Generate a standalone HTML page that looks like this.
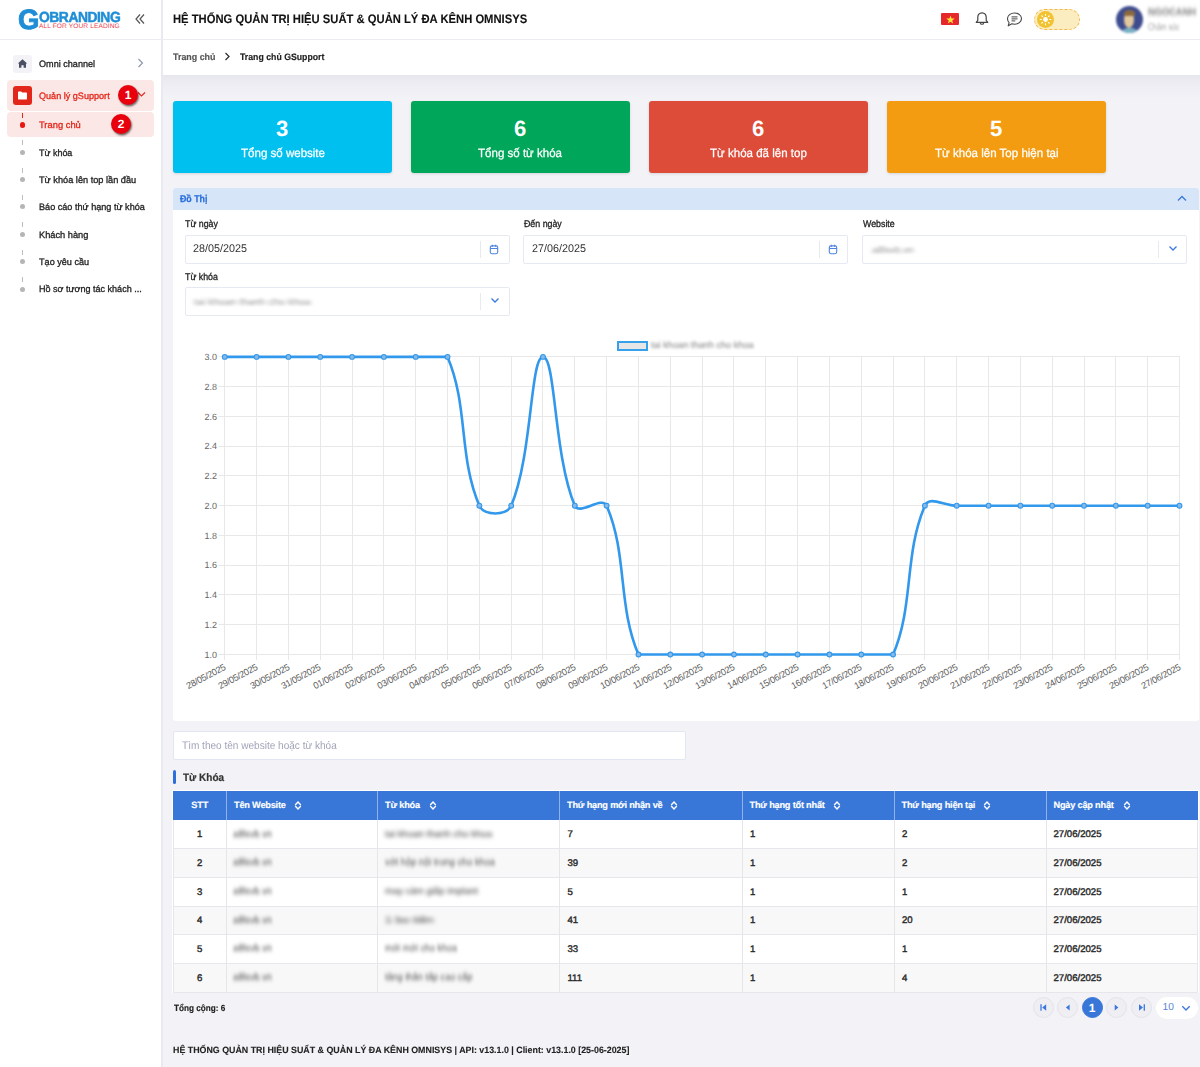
<!DOCTYPE html>
<html><head><meta charset="utf-8">
<style>
*{box-sizing:border-box;margin:0;padding:0}
html,body{width:1200px;height:1067px;overflow:hidden}
body{position:relative;background:#f2f2f7;font-family:"Liberation Sans",sans-serif;color:#333;text-rendering:geometricPrecision}
.a{position:absolute}
svg{display:block}
.sb{left:0;top:0;width:161px;height:1067px;background:#fff}
.sbb{left:161px;top:0;width:2px;height:1067px;background:#e9e9f1}
.hdr{left:163px;top:0;width:1037px;height:39px;background:#fff}
.hl{left:0;top:39px;width:1200px;height:1px;background:#ececf0}
.bc{left:163px;top:40px;width:1037px;height:35px;background:#fff;}
.title{left:173.5px;top:11.5px;font-size:11.9px;font-weight:bold;letter-spacing:-0.42px;color:#111;white-space:nowrap;line-height:14px}
.bct{top:51.5px;font-size:9.5px;font-weight:bold;letter-spacing:-0.5px;line-height:11px;white-space:nowrap}
/* sidebar */
.mi{left:39px;font-size:9.8px;letter-spacing:-0.37px;-webkit-text-stroke:0.15px currentColor;line-height:12px;color:#222;white-space:nowrap}
.dot{left:20px;width:5px;height:5px;border-radius:50%;background:#b5b5b5}
.dash{left:22px;width:1px;height:5px;background:#bdbdbd}
/* cards */
.card{top:101px;width:219px;height:72px;border-radius:3px;color:#fff;text-align:center;box-shadow:0 1px 3px rgba(0,0,0,.12)}
.card b{position:absolute;left:0;right:0;top:15px;font-size:23px;line-height:24px;font-weight:bold}
.card i{position:absolute;left:0;right:0;top:45px;font-size:11.4px;line-height:14px;font-style:normal}

.lbl{font-size:9.3px;line-height:11px;letter-spacing:-0.28px;color:#222;-webkit-text-stroke:0.2px #222;white-space:nowrap}
.inp{width:325px;height:29px;border:1px solid #e6e9f1;border-radius:2px;background:#fff}
.inp .v{position:absolute;left:9px;top:8px;font-size:10.7px;line-height:12px;color:#333;white-space:nowrap}
.inp .v.blur{top:10.5px;height:7px;background:#cfcfd4;filter:blur(1.6px)}
.inp .sep{position:absolute;right:27.5px;top:5px;width:1px;height:17px;background:#e6e9f1}
.inp .ic{position:absolute;right:9.5px;top:8px}
.blur{filter:blur(1.5px)}
.xl{position:absolute;top:663px;font-size:9.2px;line-height:9px;letter-spacing:-0.3px;color:#5a5a5a;white-space:nowrap;transform:translateX(-100%) rotate(-28deg);transform-origin:100% 0}
.th{top:800.2px;font-size:9.2px;line-height:10px;font-weight:bold;letter-spacing:-0.2px;color:#fff;-webkit-text-stroke:0.15px #fff;white-space:nowrap}
.td{font-size:9.6px;line-height:10px;letter-spacing:0px;color:#2a2a2a;-webkit-text-stroke:0.4px #2a2a2a;white-space:nowrap}
.bl{height:6.5px;background:#b9b9bd;filter:blur(1.5px)}
.pg{top:997px;width:21px;height:21px;border-radius:50%;background:#efeff3;border:1px solid #e3e3e8}
.pg svg{position:absolute;left:-1px;top:-1px}
.t{white-space:nowrap}
.bt{font-size:9.5px;line-height:11px;color:#3a3a3a;white-space:nowrap;filter:blur(1.9px);transform-origin:0 0}
</style></head><body>
<div class="a sb"></div>
<div class="a sbb"></div>
<div class="a hdr"></div>
<div class="a hl"></div>
<div class="a bc"></div>
<div class="a" style="left:163px;top:75px;width:1037px;height:24px;background:linear-gradient(to bottom,#e6e6ed,#ececf2 30%,#f2f2f7)"></div>

<!-- logo -->
<div class="a" style="left:17.5px;top:7.5px;width:24px;height:24px;font-size:28px;line-height:24px;font-weight:bold;color:#1f8ed6;-webkit-text-stroke:0.9px #1f8ed6;transform:scaleX(0.98);transform-origin:0 0">G</div>
<div class="a" style="left:38.5px;top:11.3px;font-size:14.6px;line-height:14px;font-weight:bold;color:#1f8ed6;-webkit-text-stroke:0.5px #1f8ed6;letter-spacing:-0.5px;white-space:nowrap;transform:scaleX(0.95);transform-origin:0 0">OBRANDING</div>
<div class="a" style="left:39px;top:23px;font-size:6.6px;line-height:7px;color:#e8414f;white-space:nowrap;letter-spacing:0.1px">ALL FOR YOUR LEADING</div>
<svg class="a" style="left:134px;top:13px" width="12" height="12" viewBox="0 0 12 12"><path d="M6 1.5 L2 6 L6 10.5 M10 1.5 L6 6 L10 10.5" fill="none" stroke="#555" stroke-width="1.2"/></svg>

<!-- header -->
<svg class="a" style="left:224px;top:52px" width="7" height="9" viewBox="0 0 7 9"><path d="M1.5 1 L5 4.5 L1.5 8" fill="none" stroke="#333" stroke-width="1.3"/></svg>

<!-- sidebar menu -->
<div class="a" style="left:13px;top:55px;width:19px;height:18px;border-radius:3px;background:#f3f3f7"></div>
<svg class="a" style="left:17px;top:58px" width="11" height="11" viewBox="0 0 11 11"><path d="M5.5 1.2 L0.8 5.6 L2 5.6 L2 9.8 L4.4 9.8 L4.4 7.2 L6.6 7.2 L6.6 9.8 L9 9.8 L9 5.6 L10.2 5.6 Z" fill="#4a4f63"/></svg>
<svg class="a" style="left:137px;top:58px" width="7" height="10" viewBox="0 0 7 10"><path d="M1.5 1 L5.5 5 L1.5 9" fill="none" stroke="#8a93a8" stroke-width="1.1"/></svg>

<div class="a" style="left:7px;top:80px;width:147px;height:30.6px;border-radius:4px;background:#fbe8e6"></div>
<div class="a" style="left:13px;top:86px;width:19px;height:19px;border-radius:3px;background:#e3261a"></div>
<svg class="a" style="left:17px;top:90px" width="11" height="11" viewBox="0 0 11 11"><path d="M1 2.2 Q1 1.5 1.7 1.5 L4.2 1.5 L5.2 2.6 L9.3 2.6 Q10 2.6 10 3.3 L10 8.8 Q10 9.5 9.3 9.5 L1.7 9.5 Q1 9.5 1 8.8 Z" fill="#fff"/></svg>
<svg class="a" style="left:137px;top:91px" width="9" height="7" viewBox="0 0 9 7"><path d="M1 1.5 L4.5 5 L8 1.5" fill="none" stroke="#e3261a" stroke-width="1.1"/></svg>

<div class="a" style="left:7px;top:112.2px;width:147px;height:25.3px;border-radius:4px;background:#fbe8e6"></div>
<div class="a dash" style="top:113px;background:#e3261a;height:5px"></div>
<div class="a dot" style="top:122px;left:19.7px;width:5.6px;height:5.6px;background:#e8170f"></div>

<div class="a dash" style="top:140px"></div>
<div class="a dot" style="top:149.5px"></div>
<div class="a dash" style="top:167.5px"></div>
<div class="a dot" style="top:177px"></div>
<div class="a dash" style="top:195px"></div>
<div class="a dot" style="top:204px"></div>
<div class="a dash" style="top:222px"></div>
<div class="a dot" style="top:231.5px"></div>
<div class="a dash" style="top:249.5px"></div>
<div class="a dot" style="top:259px"></div>
<div class="a dash" style="top:277px"></div>
<div class="a dot" style="top:286.5px"></div>

<!-- badges -->
<div class="a" style="left:118px;top:85px;width:20px;height:20px;border-radius:50%;background:#e8000c;box-shadow:1px 1.5px 2px rgba(0,0,0,.55);color:#fff;font-size:12px;font-weight:bold;text-align:center;line-height:20px">1</div>
<div class="a" style="left:111px;top:113.5px;width:20px;height:20px;border-radius:50%;background:#e8000c;box-shadow:1px 1.5px 2px rgba(0,0,0,.55);color:#fff;font-size:12px;font-weight:bold;text-align:center;line-height:20px">2</div>

<!-- cards -->
<div class="a card" style="left:173px;background:#00c0ef"></div>
<div class="a card" style="left:411px;background:#00a65a"></div>
<div class="a card" style="left:649px;background:#dd4b39"></div>
<div class="a card" style="left:887px;background:#f39c12"></div>

<!-- panel -->
<div class="a" style="left:173px;top:188px;width:1026px;height:533px;background:#fff;border-radius:3px"></div>
<div class="a" style="left:173px;top:188px;width:1026px;height:22px;background:#d7e5f8;border-radius:3px 3px 0 0"></div>
<svg class="a" style="left:1177px;top:195px" width="10" height="7" viewBox="0 0 10 7"><path d="M1 5.5 L5 1.5 L9 5.5" fill="none" stroke="#3b78dc" stroke-width="1.3"/></svg>


<div class="a inp" style="left:184.5px;top:234.5px"><i class="sep"></i><svg class="ic" width="10" height="11" viewBox="0 0 10 11"><rect x="1.3" y="1.9" width="7.4" height="7.8" rx="1.6" fill="none" stroke="#4f84e0" stroke-width="1.1"/><path d="M3.4 0.8V2.8M6.6 0.8V2.8M1.3 4.5H8.7" stroke="#4f84e0" stroke-width="1.1"/></svg></div>
<div class="a inp" style="left:523px;top:234.5px"><i class="sep"></i><svg class="ic" width="10" height="11" viewBox="0 0 10 11"><rect x="1.3" y="1.9" width="7.4" height="7.8" rx="1.6" fill="none" stroke="#4f84e0" stroke-width="1.1"/><path d="M3.4 0.8V2.8M6.6 0.8V2.8M1.3 4.5H8.7" stroke="#4f84e0" stroke-width="1.1"/></svg></div>
<div class="a inp" style="left:862px;top:234.5px"><span class="a bt" style="transform:scaleX(1.036);left:9px;top:9.5px;color:#999;filter:blur(1.8px)">a8lsvb.vn</span><i class="sep"></i><svg class="ic" style="top:9px;right:8.5px" width="10" height="7" viewBox="0 0 10 7"><path d="M1.5 1.5 L5 5 L8.5 1.5" fill="none" stroke="#3b78dc" stroke-width="1.3"/></svg></div>
<div class="a inp" style="left:184.5px;top:286.9px;height:28.8px"><span class="a bt" style="transform:scaleX(1.099);left:8.5px;top:9.5px;color:#999;filter:blur(1.8px)">tai khoan thanh cho khoa</span><i class="sep"></i><svg class="ic" style="top:9px;right:8.5px" width="10" height="7" viewBox="0 0 10 7"><path d="M1.5 1.5 L5 5 L8.5 1.5" fill="none" stroke="#3b78dc" stroke-width="1.3"/></svg></div>

<!-- legend -->
<div class="a" style="left:617px;top:340.5px;width:30.5px;height:10px;border:2px solid #36a0ea;background:#e6e6e6"></div>
<div class="a bt" style="transform:scaleX(0.967);left:651px;top:340px;color:#7c7c7c;filter:blur(1.8px)">tai khoan thanh cho khoa</div>
<svg class="a" style="left:180px;top:330px" width="1020" height="340" viewBox="180 330 1020 340">
<path d="M218.5 356.5H1180.0M218.5 386.5H1180.0M218.5 416.5H1180.0M218.5 446.5H1180.0M218.5 475.5H1180.0M218.5 505.5H1180.0M218.5 535.5H1180.0M218.5 565.5H1180.0M218.5 594.5H1180.0M218.5 624.5H1180.0M218.5 654.5H1180.0M224.5 356.5V660.0M256.5 356.5V660.0M288.5 356.5V660.0M320.5 356.5V660.0M352.5 356.5V660.0M383.5 356.5V660.0M415.5 356.5V660.0M447.5 356.5V660.0M479.5 356.5V660.0M511.5 356.5V660.0M542.5 356.5V660.0M574.5 356.5V660.0M606.5 356.5V660.0M638.5 356.5V660.0M670.5 356.5V660.0M702.5 356.5V660.0M733.5 356.5V660.0M765.5 356.5V660.0M797.5 356.5V660.0M829.5 356.5V660.0M861.5 356.5V660.0M893.5 356.5V660.0M924.5 356.5V660.0M956.5 356.5V660.0M988.5 356.5V660.0M1020.5 356.5V660.0M1052.5 356.5V660.0M1084.5 356.5V660.0M1115.5 356.5V660.0M1147.5 356.5V660.0M1179.5 356.5V660.0" stroke="#e8e8e8" stroke-width="1" fill="none"/>
<path d="M224.75 356.90C237.48 356.90 243.84 356.90 256.57 356.90C269.31 356.90 275.67 356.90 288.40 356.90C301.13 356.90 307.50 356.90 320.23 356.90C332.96 356.90 339.32 356.90 352.05 356.90C364.78 356.90 371.14 356.90 383.88 356.90C396.61 356.90 402.97 356.90 415.70 356.90C428.43 356.90 443.12 356.90 447.52 356.90C468.58 406.12 458.29 456.48 479.35 505.70C483.75 516.00 506.77 516.00 511.18 505.70C532.23 456.48 530.27 356.90 543.00 356.90C555.73 356.90 553.77 456.48 574.83 505.70C579.23 516.00 602.25 495.40 606.65 505.70C627.71 554.92 617.42 605.28 638.48 654.50C642.88 654.50 657.57 654.50 670.30 654.50C683.03 654.50 689.39 654.50 702.12 654.50C714.86 654.50 721.22 654.50 733.95 654.50C746.68 654.50 753.04 654.50 765.77 654.50C778.50 654.50 784.87 654.50 797.60 654.50C810.33 654.50 816.69 654.50 829.42 654.50C842.15 654.50 848.52 654.50 861.25 654.50C873.98 654.50 888.67 654.50 893.08 654.50C914.13 605.28 903.84 554.92 924.90 505.70C929.30 495.40 944.00 505.70 956.73 505.70C969.46 505.70 975.82 505.70 988.55 505.70C1001.28 505.70 1007.64 505.70 1020.38 505.70C1033.11 505.70 1039.47 505.70 1052.20 505.70C1064.93 505.70 1071.30 505.70 1084.03 505.70C1096.76 505.70 1103.12 505.70 1115.85 505.70C1128.58 505.70 1134.94 505.70 1147.67 505.70C1160.40 505.70 1166.77 505.70 1179.50 505.70" stroke="#3298ec" stroke-width="2.6" fill="none"/>
<g fill="#86b9e6" stroke="#3298ec" stroke-width="1.1"><circle cx="224.75" cy="356.90" r="2.4"/><circle cx="256.57" cy="356.90" r="2.4"/><circle cx="288.40" cy="356.90" r="2.4"/><circle cx="320.23" cy="356.90" r="2.4"/><circle cx="352.05" cy="356.90" r="2.4"/><circle cx="383.88" cy="356.90" r="2.4"/><circle cx="415.70" cy="356.90" r="2.4"/><circle cx="447.52" cy="356.90" r="2.4"/><circle cx="479.35" cy="505.70" r="2.4"/><circle cx="511.18" cy="505.70" r="2.4"/><circle cx="543.00" cy="356.90" r="2.4"/><circle cx="574.83" cy="505.70" r="2.4"/><circle cx="606.65" cy="505.70" r="2.4"/><circle cx="638.48" cy="654.50" r="2.4"/><circle cx="670.30" cy="654.50" r="2.4"/><circle cx="702.12" cy="654.50" r="2.4"/><circle cx="733.95" cy="654.50" r="2.4"/><circle cx="765.77" cy="654.50" r="2.4"/><circle cx="797.60" cy="654.50" r="2.4"/><circle cx="829.42" cy="654.50" r="2.4"/><circle cx="861.25" cy="654.50" r="2.4"/><circle cx="893.08" cy="654.50" r="2.4"/><circle cx="924.90" cy="505.70" r="2.4"/><circle cx="956.73" cy="505.70" r="2.4"/><circle cx="988.55" cy="505.70" r="2.4"/><circle cx="1020.38" cy="505.70" r="2.4"/><circle cx="1052.20" cy="505.70" r="2.4"/><circle cx="1084.03" cy="505.70" r="2.4"/><circle cx="1115.85" cy="505.70" r="2.4"/><circle cx="1147.67" cy="505.70" r="2.4"/><circle cx="1179.50" cy="505.70" r="2.4"/></g>
<text x="217" y="360.1" text-anchor="end" font-size="9" fill="#666" font-family="Liberation Sans">3.0</text>
<text x="217" y="389.9" text-anchor="end" font-size="9" fill="#666" font-family="Liberation Sans">2.8</text>
<text x="217" y="419.6" text-anchor="end" font-size="9" fill="#666" font-family="Liberation Sans">2.6</text>
<text x="217" y="449.4" text-anchor="end" font-size="9" fill="#666" font-family="Liberation Sans">2.4</text>
<text x="217" y="479.1" text-anchor="end" font-size="9" fill="#666" font-family="Liberation Sans">2.2</text>
<text x="217" y="508.9" text-anchor="end" font-size="9" fill="#666" font-family="Liberation Sans">2.0</text>
<text x="217" y="538.7" text-anchor="end" font-size="9" fill="#666" font-family="Liberation Sans">1.8</text>
<text x="217" y="568.4" text-anchor="end" font-size="9" fill="#666" font-family="Liberation Sans">1.6</text>
<text x="217" y="598.2" text-anchor="end" font-size="9" fill="#666" font-family="Liberation Sans">1.4</text>
<text x="217" y="627.9" text-anchor="end" font-size="9" fill="#666" font-family="Liberation Sans">1.2</text>
<text x="217" y="657.7" text-anchor="end" font-size="9" fill="#666" font-family="Liberation Sans">1.0</text>
</svg>
<div class="xl" style="left:222.95px">28/05/2025</div>
<div class="xl" style="left:254.77px">29/05/2025</div>
<div class="xl" style="left:286.60px">30/05/2025</div>
<div class="xl" style="left:318.43px">31/05/2025</div>
<div class="xl" style="left:350.25px">01/06/2025</div>
<div class="xl" style="left:382.07px">02/06/2025</div>
<div class="xl" style="left:413.90px">03/06/2025</div>
<div class="xl" style="left:445.72px">04/06/2025</div>
<div class="xl" style="left:477.55px">05/06/2025</div>
<div class="xl" style="left:509.38px">06/06/2025</div>
<div class="xl" style="left:541.20px">07/06/2025</div>
<div class="xl" style="left:573.03px">08/06/2025</div>
<div class="xl" style="left:604.85px">09/06/2025</div>
<div class="xl" style="left:636.68px">10/06/2025</div>
<div class="xl" style="left:668.50px">11/06/2025</div>
<div class="xl" style="left:700.33px">12/06/2025</div>
<div class="xl" style="left:732.15px">13/06/2025</div>
<div class="xl" style="left:763.98px">14/06/2025</div>
<div class="xl" style="left:795.80px">15/06/2025</div>
<div class="xl" style="left:827.62px">16/06/2025</div>
<div class="xl" style="left:859.45px">17/06/2025</div>
<div class="xl" style="left:891.28px">18/06/2025</div>
<div class="xl" style="left:923.10px">19/06/2025</div>
<div class="xl" style="left:954.93px">20/06/2025</div>
<div class="xl" style="left:986.75px">21/06/2025</div>
<div class="xl" style="left:1018.58px">22/06/2025</div>
<div class="xl" style="left:1050.40px">23/06/2025</div>
<div class="xl" style="left:1082.23px">24/06/2025</div>
<div class="xl" style="left:1114.05px">25/06/2025</div>
<div class="xl" style="left:1145.88px">26/06/2025</div>
<div class="xl" style="left:1177.70px">27/06/2025</div>
<!-- search -->
<div class="a" style="left:173px;top:730.8px;width:512.5px;height:28.8px;background:#fff;border:1px solid #e2e6f0;border-radius:2px"></div>
<div class="a" style="left:173px;top:770px;width:3px;height:13.5px;border-radius:1.5px;background:#2f6fdc"></div>
<div class="a" style="left:172px;top:790px;width:1027px;height:203px;background:#fff"></div>
<div class="a" style="left:173px;top:791px;width:1025px;height:29px;background:#3877d8"></div>
<div class="a" style="left:226.0px;top:791px;width:1px;height:29px;background:#8fb2ea"></div>
<div class="a" style="left:377.0px;top:791px;width:1px;height:29px;background:#8fb2ea"></div>
<div class="a" style="left:559.0px;top:791px;width:1px;height:29px;background:#8fb2ea"></div>
<div class="a" style="left:741.5px;top:791px;width:1px;height:29px;background:#8fb2ea"></div>
<div class="a" style="left:893.5px;top:791px;width:1px;height:29px;background:#8fb2ea"></div>
<div class="a" style="left:1045.5px;top:791px;width:1px;height:29px;background:#8fb2ea"></div>
<div class="a th" style="left:173px;width:53.5px;text-align:center">STT</div>
<div class="a th" style="left:234.0px">Tên Website</div>
<svg class="a" style="left:294.2px;top:800.8px" width="8" height="9" viewBox="0 0 8 9"><path d="M1.2 4 L4 1.1 L6.8 4 M1.2 5 L4 7.9 L6.8 5" fill="none" stroke="#fff" stroke-width="1.4"/></svg>
<div class="a th" style="left:385.0px">Từ khóa</div>
<svg class="a" style="left:428.5px;top:800.8px" width="8" height="9" viewBox="0 0 8 9"><path d="M1.2 4 L4 1.1 L6.8 4 M1.2 5 L4 7.9 L6.8 5" fill="none" stroke="#fff" stroke-width="1.4"/></svg>
<div class="a th" style="left:567.0px">Thứ hạng mới nhận về</div>
<svg class="a" style="left:669.5px;top:800.8px" width="8" height="9" viewBox="0 0 8 9"><path d="M1.2 4 L4 1.1 L6.8 4 M1.2 5 L4 7.9 L6.8 5" fill="none" stroke="#fff" stroke-width="1.4"/></svg>
<div class="a th" style="left:749.5px">Thứ hạng tốt nhất</div>
<svg class="a" style="left:833.0px;top:800.8px" width="8" height="9" viewBox="0 0 8 9"><path d="M1.2 4 L4 1.1 L6.8 4 M1.2 5 L4 7.9 L6.8 5" fill="none" stroke="#fff" stroke-width="1.4"/></svg>
<div class="a th" style="left:901.5px">Thứ hạng hiện tại</div>
<svg class="a" style="left:983.0px;top:800.8px" width="8" height="9" viewBox="0 0 8 9"><path d="M1.2 4 L4 1.1 L6.8 4 M1.2 5 L4 7.9 L6.8 5" fill="none" stroke="#fff" stroke-width="1.4"/></svg>
<div class="a th" style="left:1053.5px">Ngày cập nhật</div>
<svg class="a" style="left:1122.5px;top:800.8px" width="8" height="9" viewBox="0 0 8 9"><path d="M1.2 4 L4 1.1 L6.8 4 M1.2 5 L4 7.9 L6.8 5" fill="none" stroke="#fff" stroke-width="1.4"/></svg>
<div class="a" style="left:173px;top:820.00px;width:1025px;height:28.70px;background:#fff"></div>
<div class="a td" style="left:173px;width:53.5px;text-align:center;top:830.30px">1</div>
<div class="a bt" style="transform:scaleX(0.972);left:233px;top:828.60px">a8lsvb.vn</div>
<div class="a bt" style="transform:scaleX(1.008);left:385px;top:828.60px">tai khoan thanh cho khoa</div>
<div class="a td" style="left:567.5px;top:830.30px">7</div>
<div class="a td" style="left:750px;top:830.30px">1</div>
<div class="a td" style="left:902px;top:830.30px">2</div>
<div class="a td" style="left:1053.5px;top:830.30px">27/06/2025</div>
<div class="a" style="left:173px;top:848.70px;width:1025px;height:28.70px;background:#f8f8f9"></div>
<div class="a td" style="left:173px;width:53.5px;text-align:center;top:859.00px">2</div>
<div class="a bt" style="transform:scaleX(0.972);left:233px;top:857.30px">a8lsvb.vn</div>
<div class="a bt" style="transform:scaleX(0.974);left:385px;top:857.30px">vớt hộp nội trong cho khoa</div>
<div class="a td" style="left:567.5px;top:859.00px">39</div>
<div class="a td" style="left:750px;top:859.00px">1</div>
<div class="a td" style="left:902px;top:859.00px">2</div>
<div class="a td" style="left:1053.5px;top:859.00px">27/06/2025</div>
<div class="a" style="left:173px;top:877.40px;width:1025px;height:28.70px;background:#fff"></div>
<div class="a td" style="left:173px;width:53.5px;text-align:center;top:887.70px">3</div>
<div class="a bt" style="transform:scaleX(0.972);left:233px;top:886.00px">a8lsvb.vn</div>
<div class="a bt" style="transform:scaleX(1.006);left:385px;top:886.00px">may cảm giấp implant</div>
<div class="a td" style="left:567.5px;top:887.70px">5</div>
<div class="a td" style="left:750px;top:887.70px">1</div>
<div class="a td" style="left:902px;top:887.70px">1</div>
<div class="a td" style="left:1053.5px;top:887.70px">27/06/2025</div>
<div class="a" style="left:173px;top:906.10px;width:1025px;height:28.70px;background:#f8f8f9"></div>
<div class="a td" style="left:173px;width:53.5px;text-align:center;top:916.40px">4</div>
<div class="a bt" style="transform:scaleX(0.972);left:233px;top:914.70px">a8lsvb.vn</div>
<div class="a bt" style="transform:scaleX(1.330);left:385px;top:914.70px">1 bo tiên</div>
<div class="a td" style="left:567.5px;top:916.40px">41</div>
<div class="a td" style="left:750px;top:916.40px">1</div>
<div class="a td" style="left:902px;top:916.40px">20</div>
<div class="a td" style="left:1053.5px;top:916.40px">27/06/2025</div>
<div class="a" style="left:173px;top:934.80px;width:1025px;height:28.70px;background:#fff"></div>
<div class="a td" style="left:173px;width:53.5px;text-align:center;top:945.10px">5</div>
<div class="a bt" style="transform:scaleX(0.972);left:233px;top:943.40px">a8lsvb.vn</div>
<div class="a bt" style="transform:scaleX(0.943);left:385px;top:943.40px">mới mới cho khoa</div>
<div class="a td" style="left:567.5px;top:945.10px">33</div>
<div class="a td" style="left:750px;top:945.10px">1</div>
<div class="a td" style="left:902px;top:945.10px">1</div>
<div class="a td" style="left:1053.5px;top:945.10px">27/06/2025</div>
<div class="a" style="left:173px;top:963.50px;width:1025px;height:28.70px;background:#f8f8f9"></div>
<div class="a td" style="left:173px;width:53.5px;text-align:center;top:973.80px">6</div>
<div class="a bt" style="transform:scaleX(0.972);left:233px;top:972.10px">a8lsvb.vn</div>
<div class="a bt" style="transform:scaleX(0.957);left:385px;top:972.10px">tăng thân tấp cao cấp</div>
<div class="a td" style="left:567.5px;top:973.80px">111</div>
<div class="a td" style="left:750px;top:973.80px">1</div>
<div class="a td" style="left:902px;top:973.80px">4</div>
<div class="a td" style="left:1053.5px;top:973.80px">27/06/2025</div>
<div class="a" style="left:173px;top:848.10px;width:1025px;height:1px;background:#e6e6eb"></div>
<div class="a" style="left:173px;top:876.80px;width:1025px;height:1px;background:#e6e6eb"></div>
<div class="a" style="left:173px;top:905.50px;width:1025px;height:1px;background:#e6e6eb"></div>
<div class="a" style="left:173px;top:934.20px;width:1025px;height:1px;background:#e6e6eb"></div>
<div class="a" style="left:173px;top:962.90px;width:1025px;height:1px;background:#e6e6eb"></div>
<div class="a" style="left:173px;top:991.60px;width:1025px;height:1px;background:#e6e6eb"></div>
<div class="a" style="left:226.0px;top:820px;width:1px;height:172.2px;background:#e6e6ea"></div>
<div class="a" style="left:377.0px;top:820px;width:1px;height:172.2px;background:#e6e6ea"></div>
<div class="a" style="left:559.0px;top:820px;width:1px;height:172.2px;background:#e6e6ea"></div>
<div class="a" style="left:741.5px;top:820px;width:1px;height:172.2px;background:#e6e6ea"></div>
<div class="a" style="left:893.5px;top:820px;width:1px;height:172.2px;background:#e6e6ea"></div>
<div class="a" style="left:1045.5px;top:820px;width:1px;height:172.2px;background:#e6e6ea"></div>
<div class="a" style="left:173px;top:820px;width:1px;height:172.2px;background:#e6e6ea"></div>
<div class="a" style="left:1197px;top:820px;width:1px;height:172.2px;background:#e6e6ea"></div>
<!-- pagination -->
<div class="a pg" style="left:1033px"><svg width="21" height="21" viewBox="0 0 21 21"><path d="M8 7.2V13.8" stroke="#3b78dc" stroke-width="1.3"/><path d="M13.2 7.2 L9.2 10.5 L13.2 13.8Z" fill="#3b78dc"/></svg></div>
<div class="a pg" style="left:1057px"><svg width="21" height="21" viewBox="0 0 21 21"><path d="M12.6 7.6 L8.9 10.6 L12.6 13.6Z" fill="#3b78dc"/></svg></div>
<div class="a pg" style="left:1081.5px;background:#3877d8;border-color:#3877d8;color:#fff;font-size:12px;font-weight:bold;text-align:center;line-height:20px">1</div>
<div class="a pg" style="left:1106px"><svg width="21" height="21" viewBox="0 0 21 21"><path d="M8.7 7.6 L12.4 10.6 L8.7 13.6Z" fill="#3b78dc"/></svg></div>
<div class="a pg" style="left:1130.5px"><svg width="21" height="21" viewBox="0 0 21 21"><path d="M13.3 7.2V13.8" stroke="#3b78dc" stroke-width="1.3"/><path d="M8 7.2 L12 10.5 L8 13.8Z" fill="#3b78dc"/></svg></div>
<div class="a" style="left:1155.5px;top:996.5px;width:42.5px;height:22px;border-radius:11px;background:#fff"></div>
<div class="a" style="left:1162.5px;top:1002.2px;font-size:10.2px;line-height:12px;color:#5b82d9">10</div>
<svg class="a" style="left:1180.5px;top:1004.6px" width="10" height="7" viewBox="0 0 10 7"><path d="M1.3 1.3 L5 5 L8.7 1.3" fill="none" stroke="#3b78dc" stroke-width="1.4"/></svg>

<!-- header right -->
<div class="a" style="left:941px;top:13px;width:18px;height:12px;background:#e6282a;border-radius:1px"></div>
<svg class="a" style="left:944.5px;top:14.5px" width="11" height="9" viewBox="0 0 11 9"><path d="M5.5 0.6 L6.6 3.6 L9.8 3.6 L7.2 5.5 L8.2 8.5 L5.5 6.7 L2.8 8.5 L3.8 5.5 L1.2 3.6 L4.4 3.6Z" fill="#ffe33a"/></svg>
<svg class="a" style="left:974px;top:11px" width="16" height="16" viewBox="0 0 16 16"><path d="M8 1.8 C5.2 1.8 3.8 3.9 3.8 6.3 L3.8 9.3 L2.2 11.3 L13.8 11.3 L12.2 9.3 L12.2 6.3 C12.2 3.9 10.8 1.8 8 1.8Z M6.3 12.2 C6.5 13.6 9.5 13.6 9.7 12.2" fill="none" stroke="#444" stroke-width="1.2" stroke-linejoin="round"/></svg>
<svg class="a" style="left:1006px;top:12px" width="17" height="15" viewBox="0 0 17 15"><path d="M8.5 1 C12.3 1 15.5 3.3 15.5 6.6 C15.5 9.9 12.3 12.2 8.5 12.2 C7.6 12.2 6.7 12.1 5.9 11.8 L2.2 13.8 L3.1 10.6 C2 9.6 1.5 8.2 1.5 6.6 C1.5 3.3 4.7 1 8.5 1Z" fill="none" stroke="#444" stroke-width="1.1" stroke-linejoin="round"/><path d="M5.5 4.9H11.5M5.5 6.9H11.5M5.5 8.9H9.3" stroke="#444" stroke-width="1"/></svg>
<div class="a" style="left:1033.5px;top:9px;width:46.5px;height:21px;border-radius:10.5px;background:#fbedc0;border:1px dashed #f5b94f"></div>
<div class="a" style="left:1036.5px;top:11px;width:17px;height:17px;border-radius:50%;background:#f1c232"></div>
<svg class="a" style="left:1038.5px;top:13px" width="13" height="13" viewBox="0 0 13 13"><circle cx="6.5" cy="6.5" r="2.4" fill="#fff"/><g stroke="#fff" stroke-width="1.1" stroke-linecap="round"><path d="M6.5 1.2V2.2M6.5 10.8V11.8M1.2 6.5H2.2M10.8 6.5H11.8M2.8 2.8L3.5 3.5M9.5 9.5L10.2 10.2M2.8 10.2L3.5 9.5M9.5 3.5L10.2 2.8"/></g></svg>
<!-- avatar -->
<div class="a" style="left:1115.5px;top:5.5px;width:27px;height:27px;border-radius:50%;overflow:hidden;background:#3e4c8e;filter:blur(0.9px)">
<div class="a" style="left:5px;top:22px;width:17px;height:10px;border-radius:50% 50% 0 0;background:#7bb3c6"></div>
<div class="a" style="left:8.5px;top:5px;width:10px;height:17px;border-radius:50%;background:#e2c89c"></div>
<div class="a" style="left:8px;top:4px;width:11px;height:6px;border-radius:50% 50% 20% 20%;background:#8d6a3e"></div>
</div>
<div class="a bt" style="transform:scaleX(0.978);left:1147.5px;top:6.5px;font-weight:bold;color:#707070;filter:blur(1.9px)">NGOCANH</div>
<div class="a bt" style="transform:scaleX(0.737);left:1147.5px;top:21.5px;color:#a0a0a0;filter:blur(1.6px)">Chăm sóc</div>
<div class="a t" id="title" style="left:172.84px;top:13.24px;font-size:12.355px;line-height:12.355px;font-weight:bold;color:#111;-webkit-text-stroke:0.10px #111;transform:scaleX(0.9104);transform-origin:0 0;">HỆ THỐNG QUẢN TRỊ HIỆU SUẤT &amp; QUẢN LÝ ĐA KÊNH OMNISYS</div>
<div class="a t" id="bc1" style="left:173.45px;top:53.26px;font-size:9.375px;line-height:9.375px;font-weight:bold;color:#555;-webkit-text-stroke:0.15px #555;transform:scaleX(0.9488);transform-origin:0 0;">Trang chủ</div>
<div class="a t" id="bc2" style="left:239.87px;top:53.26px;font-size:9.375px;line-height:9.375px;font-weight:bold;color:#222;-webkit-text-stroke:0.15px #222;transform:scaleX(0.9326);transform-origin:0 0;">Trang chủ GSupport</div>
<div class="a t" id="m1" style="left:39.10px;top:59.73px;font-size:9.302px;line-height:9.302px;color:#222;-webkit-text-stroke:0.30px #222;transform:scaleX(0.9772);transform-origin:0 0;">Omni channel</div>
<div class="a t" id="m2" style="left:39.00px;top:91.83px;font-size:9.302px;line-height:9.302px;color:#e3261a;-webkit-text-stroke:0.30px #e3261a;transform:scaleX(0.9764);transform-origin:0 0;">Quản lý gSupport</div>
<div class="a t" id="m3" style="left:38.79px;top:120.83px;font-size:9.302px;line-height:9.302px;color:#e3261a;-webkit-text-stroke:0.30px #e3261a;transform:scaleX(1.0075);transform-origin:0 0;">Trang chủ</div>
<div class="a t" id="m4" style="left:38.84px;top:148.63px;font-size:9.302px;line-height:9.302px;color:#222;-webkit-text-stroke:0.30px #222;transform:scaleX(0.9618);transform-origin:0 0;">Từ khóa</div>
<div class="a t" id="m5" style="left:38.81px;top:176.03px;font-size:9.302px;line-height:9.302px;color:#222;-webkit-text-stroke:0.30px #222;transform:scaleX(0.9897);transform-origin:0 0;">Từ khóa lên top lần đầu</div>
<div class="a t" id="m6" style="left:38.82px;top:203.43px;font-size:9.302px;line-height:9.302px;color:#222;-webkit-text-stroke:0.30px #222;transform:scaleX(0.9794);transform-origin:0 0;">Báo cáo thứ hạng từ khóa</div>
<div class="a t" id="m7" style="left:38.80px;top:230.83px;font-size:9.302px;line-height:9.302px;color:#222;-webkit-text-stroke:0.30px #222;transform:scaleX(0.9958);transform-origin:0 0;">Khách hàng</div>
<div class="a t" id="m8" style="left:38.82px;top:258.23px;font-size:9.302px;line-height:9.302px;color:#222;-webkit-text-stroke:0.30px #222;transform:scaleX(0.9800);transform-origin:0 0;">Tạo yêu cầu</div>
<div class="a t" id="m9" style="left:38.83px;top:284.63px;font-size:9.302px;line-height:9.302px;color:#222;-webkit-text-stroke:0.30px #222;transform:scaleX(0.9712);transform-origin:0 0;">Hồ sơ tương tác khách ...</div>
<div class="a t" id="c1l" style="left:241.00px;top:146.59px;font-size:12.064px;line-height:12.064px;color:#fff;-webkit-text-stroke:0.25px #fff;transform:scaleX(0.9575);transform-origin:0 0;">Tổng số website</div>
<div class="a t" id="c2l" style="left:478.37px;top:146.59px;font-size:12.064px;line-height:12.064px;color:#fff;-webkit-text-stroke:0.25px #fff;transform:scaleX(0.9575);transform-origin:0 0;">Tổng số từ khóa</div>
<div class="a t" id="c3l" style="left:710.15px;top:146.59px;font-size:12.064px;line-height:12.064px;color:#fff;-webkit-text-stroke:0.25px #fff;transform:scaleX(0.9575);transform-origin:0 0;">Từ khóa đã lên top</div>
<div class="a t" id="c4l" style="left:934.74px;top:146.59px;font-size:12.064px;line-height:12.064px;color:#fff;-webkit-text-stroke:0.25px #fff;transform:scaleX(0.9575);transform-origin:0 0;">Từ khóa lên Top hiện tại</div>
<div class="a t" id="c1n" style="left:276.05px;top:118.00px;font-size:22.093px;line-height:22.093px;font-weight:bold;color:#fff;">3</div>
<div class="a t" id="c2n" style="left:514.00px;top:118.00px;font-size:22.093px;line-height:22.093px;font-weight:bold;color:#fff;">6</div>
<div class="a t" id="c3n" style="left:752.00px;top:118.00px;font-size:22.093px;line-height:22.093px;font-weight:bold;color:#fff;">6</div>
<div class="a t" id="c4n" style="left:990.00px;top:118.00px;font-size:22.093px;line-height:22.093px;font-weight:bold;color:#fff;">5</div>
<div class="a t" id="dothi" style="left:180.20px;top:195.43px;font-size:9.884px;line-height:9.884px;font-weight:bold;color:#2a6fdb;-webkit-text-stroke:0.25px #2a6fdb;transform:scaleX(0.8933);transform-origin:0 0;">Đồ Thị</div>
<div class="a t" id="l1" style="left:185.30px;top:219.76px;font-size:9.738px;line-height:9.738px;color:#222;-webkit-text-stroke:0.30px #222;transform:scaleX(0.9083);transform-origin:0 0;">Từ ngày</div>
<div class="a t" id="l2" style="left:523.80px;top:219.76px;font-size:9.738px;line-height:9.738px;color:#222;-webkit-text-stroke:0.30px #222;transform:scaleX(0.9083);transform-origin:0 0;">Đến ngày</div>
<div class="a t" id="l3" style="left:862.50px;top:219.76px;font-size:9.738px;line-height:9.738px;color:#222;-webkit-text-stroke:0.30px #222;transform:scaleX(0.9083);transform-origin:0 0;">Website</div>
<div class="a t" id="l4" style="left:185.30px;top:272.76px;font-size:9.738px;line-height:9.738px;color:#222;-webkit-text-stroke:0.30px #222;transform:scaleX(0.9083);transform-origin:0 0;">Từ khóa</div>
<div class="a t" id="d1" style="left:193.04px;top:244.23px;font-size:11.192px;line-height:11.192px;color:#333;transform:scaleX(0.9636);transform-origin:0 0;">28/05/2025</div>
<div class="a t" id="d2" style="left:532.04px;top:244.23px;font-size:11.192px;line-height:11.192px;color:#333;transform:scaleX(0.9636);transform-origin:0 0;">27/06/2025</div>
<div class="a t" id="srch" style="left:181.58px;top:741.47px;font-size:10.901px;line-height:10.901px;color:#a2a4b8;transform:scaleX(0.9228);transform-origin:0 0;">Tìm theo tên website hoặc từ khóa</div>
<div class="a t" id="tk" style="left:183.40px;top:773.37px;font-size:10.901px;line-height:10.901px;font-weight:bold;color:#333;-webkit-text-stroke:0.20px #333;transform:scaleX(0.9178);transform-origin:0 0;">Từ Khóa</div>
<div class="a t" id="tong" style="left:173.75px;top:1004.17px;font-size:9.012px;line-height:9.012px;font-weight:bold;color:#222;-webkit-text-stroke:0.15px #222;transform:scaleX(0.9080);transform-origin:0 0;">Tổng cộng: 6</div>
<div class="a t" id="foot" style="left:172.78px;top:1045.55px;font-size:9.157px;line-height:9.157px;font-weight:bold;color:#222;-webkit-text-stroke:0.10px #222;transform:scaleX(0.9686);transform-origin:0 0;">HỆ THỐNG QUẢN TRỊ HIỆU SUẤT &amp; QUẢN LÝ ĐA KÊNH OMNISYS | API: v13.1.0 | Client: v13.1.0 [25-06-2025]</div>
</body></html>
